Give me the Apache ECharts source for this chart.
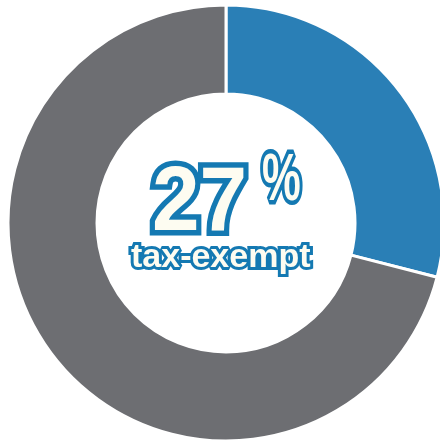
<!DOCTYPE html>
<html>
<head>
<meta charset="utf-8">
<script src="https://cdn.jsdelivr.net/npm/echarts@6/dist/echarts.min.js"></script>
<style>
  html, body { margin: 0; padding: 0; background: #fff; }
  #chart { width: 440px; height: 443px; }
</style>
</head>
<body>
<div id="chart"></div>
<script>
// slice shares as drawn
var names = ['tax-exempt', 'other'];
var values = [29, 71];
var colors = ['#2a7fb6', '#6d6e72'];
var bigLabel = '27';
var pctLabel = '%';
var subLabel = 'tax-exempt';

var chart = echarts.init(document.getElementById('chart'));

var outline = '#1479b2';
var cream = '#fdfcf1';

chart.setOption({
    animation: false,
    series: [{
        type: 'pie',
        center: [226, 223],
        radius: [129, 218],
        startAngle: 90,
        clockwise: true,
        silent: true,
        label: { show: false },
        labelLine: { show: false },
        itemStyle: { borderColor: '#fff', borderWidth: 3 },
        data: names.map(function (n, i) {
            return { name: n, value: values[i], itemStyle: { color: colors[i] } };
        })
    }],
    graphic: [
        {
            type: 'text',
            x: 152,
            y: 160,
            scaleX: 0.95,
            style: {
                text: bigLabel,
                font: 'bold 90px "Liberation Sans"',
                fill: cream,
                stroke: outline,
                lineWidth: 11,
                lineJoin: 'round',
                strokeFirst: true
            }
        },
        {
            type: 'text',
            x: 262,
            y: 149,
            scaleX: 0.66,
            style: {
                text: pctLabel,
                font: 'bold 66px "Liberation Sans"',
                fill: cream,
                stroke: outline,
                lineWidth: 9,
                lineJoin: 'round',
                strokeFirst: true
            }
        },
        {
            type: 'text',
            x: 131,
            y: 241,
            style: {
                text: subLabel,
                font: 'bold 34px "Liberation Sans"',
                fill: cream,
                stroke: outline,
                lineWidth: 6,
                lineJoin: 'round',
                strokeFirst: true
            }
        }
    ]
});
</script>
</body>
</html>
